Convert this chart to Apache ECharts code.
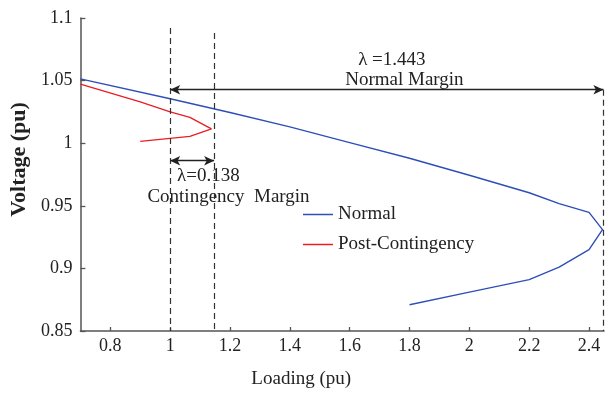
<!DOCTYPE html>
<html>
<head>
<meta charset="utf-8">
<script src="https://cdn.jsdelivr.net/npm/echarts@6/dist/echarts.min.js"></script>
<style>
  html, body { margin: 0; padding: 0; background: #fff; }
  #chart { width: 615px; height: 394px; }
</style>
</head>
<body>
<div id="chart"></div>
<script>
// P-V curves
var normalLoad = [0.7, 1.0, 1.2, 1.4, 1.6, 1.8, 2.0, 2.2, 2.3, 2.4, 2.445, 2.4, 2.3, 2.2, 2.0, 1.8]
var normalVolt = [1.0514, 1.0355, 1.0245, 1.013, 1.0005, 0.988, 0.9744, 0.9604, 0.9517, 0.9447, 0.931, 0.915, 0.901, 0.891, 0.881, 0.871]
var contLoad = [0.7, 0.9, 1.0, 1.066, 1.138, 1.066, 0.9]
var contVolt = [1.0472, 1.033, 1.025, 1.0206, 1.0114, 1.0055, 1.0015]

var xTicks = [0.8, 1, 1.2, 1.4, 1.6, 1.8, 2, 2.2, 2.4]

// margin markers (load values, arrow heights)
var baseLoad = 1.0
var contLimit = 1.147
var normalLimit = 2.448
var normalArrowV = 1.0427
var contArrowV = 0.986

var FONT = 'Liberation Serif'

function pairs(xs, ys) {
  var out = []
  for (var i = 0; i < xs.length; i++) out.push([xs[i], ys[i]])
  return out
}

var myChart = echarts.init(document.getElementById('chart'))

var dashStyle = { color: '#333', width: 1.2, type: [6, 4] }
var arrowStyle = { color: '#222', width: 1.3, type: 'solid' }

var options = {
  animation: false,
  grid: { left: 77, right: 11, top: 18, bottom: 62 },
  legend: {
    orient: 'vertical',
    left: 303,
    top: 205,
    padding: 0,
    icon: 'rect',
    itemWidth: 30,
    itemHeight: 1.5,
    itemGap: 11,
    data: ['Normal', 'Post-Contingency'],
    textStyle: { fontFamily: FONT, fontSize: 19, color: '#222' }
  },
  xAxis: {
    type: 'value',
    min: 0.7,
    max: 2.45,
    name: 'Loading (pu)',
    nameLocation: 'middle',
    nameGap: 39,
    nameTextStyle: { fontFamily: FONT, fontSize: 19, color: '#222', padding: [0, 82, 0, 0] },
    splitLine: { show: false },
    axisLine: { lineStyle: { color: '#555', width: 1.5 } },
    axisTick: { inside: true, length: 4, customValues: xTicks, lineStyle: { color: '#555', width: 1.3 } },
    axisLabel: {
      customValues: xTicks,
      margin: 6,
      fontFamily: FONT,
      fontSize: 18,
      color: '#222'
    }
  },
  yAxis: {
    type: 'value',
    min: 0.85,
    max: 1.1,
    interval: 0.05,
    name: 'Voltage (pu)',
    nameLocation: 'middle',
    nameGap: 44,
    nameRotate: 90,
    nameTextStyle: { fontFamily: FONT, fontSize: 22, fontWeight: 'bold', color: '#222', padding: [0, 0, 0, 30] },
    splitLine: { show: false },
    axisLine: { lineStyle: { color: '#555', width: 1.5 } },
    axisTick: { inside: true, length: 5, lineStyle: { color: '#555', width: 1.3 } },
    axisLabel: {
      margin: 8,
      fontFamily: FONT,
      fontSize: 18,
      color: '#222',
      formatter: function (v) { return String(parseFloat(v.toFixed(2))) }
    }
  },
  series: [
    {
      name: 'Normal',
      type: 'line',
      symbol: 'none',
      color: '#2f4fb8',
      lineStyle: { width: 1.4 },
      z: 3,
      data: pairs(normalLoad, normalVolt)
    },
    {
      name: 'Post-Contingency',
      type: 'line',
      symbol: 'none',
      color: '#ec1c24',
      lineStyle: { width: 1.3 },
      z: 3,
      data: pairs(contLoad, contVolt)
    },
    {
      name: 'margins',
      type: 'line',
      data: [],
      markLine: {
        silent: true,
        animation: false,
        label: { show: false },
        symbol: 'none',
        lineStyle: dashStyle,
        data: [
          [{ coord: [baseLoad, 1.092] }, { coord: [baseLoad, 0.85] }],
          [{ coord: [contLimit, 1.088] }, { coord: [contLimit, 0.85] }],
          [{ coord: [normalLimit, normalArrowV] }, { coord: [normalLimit, 0.85] }],
          [
            { coord: [baseLoad, normalArrowV], symbol: 'arrow', symbolSize: [7, 10], lineStyle: arrowStyle },
            { coord: [normalLimit, normalArrowV], symbol: 'arrow', symbolSize: [7, 10] }
          ],
          [
            { coord: [baseLoad, contArrowV], symbol: 'arrow', symbolSize: [7, 10], lineStyle: arrowStyle },
            { coord: [contLimit, contArrowV], symbol: 'arrow', symbolSize: [7, 10] }
          ]
        ]
      }
    }
  ]
}
myChart.setOption(options)

// annotation texts placed at data coordinates
var notes = [
  { text: 'λ =1.443', at: [1.741, 1.0666] },
  { text: 'Normal Margin', at: [1.783, 1.0506] },
  { text: 'λ=0.138', at: [1.128, 0.9734] },
  { text: 'Contingency  Margin', at: [1.195, 0.9567] }
]
var graphics = notes.map(function (n) {
  var p = myChart.convertToPixel({ gridIndex: 0 }, n.at)
  return {
    type: 'text',
    x: p[0],
    y: p[1],
    style: {
      text: n.text,
      fontFamily: FONT,
      fontSize: 19,
      fill: '#222',
      align: 'center',
      verticalAlign: 'middle'
    }
  }
})
myChart.setOption({ graphic: graphics })
</script>
</body>
</html>
